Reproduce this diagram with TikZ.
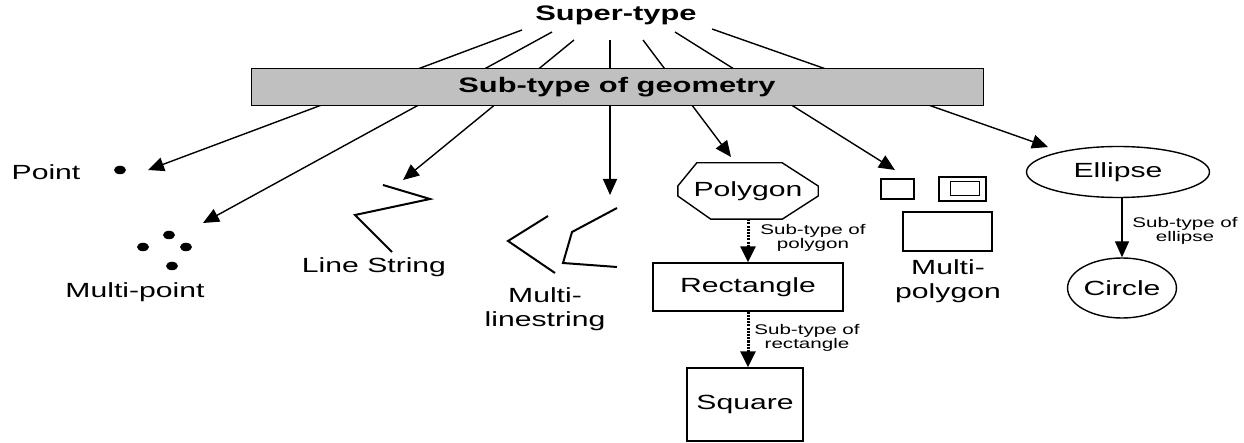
\documentclass[tikz,border=0pt]{standalone}
\usepackage{fontspec}
\setmainfont{Liberation Sans}[FakeStretch=1.47]
\usetikzlibrary{arrows.meta,shapes.geometric}
\definecolor{barg}{HTML}{C0C0C0}
\begin{document}
\begin{tikzpicture}[x=1pt,y=-1pt,
  lbl/.style={font=\fontsize{20.5}{24}\selectfont, align=center, inner sep=0pt},
  blbl/.style={font=\bfseries\fontsize{21}{24}\selectfont, align=center, inner sep=0pt},
  small/.style={font=\fontsize{14}{14.5}\selectfont, align=center, inner sep=0pt},
  arr/.style={line width=1.4pt, -{Triangle[length=16pt,width=14pt]}},
  dotarr/.style={line width=3pt, dash pattern=on 2pt off 1.2pt, -{Triangle[length=16pt,width=15pt]}},
  shp/.style={line width=2pt, line join=miter},
  frame/.style={draw, line width=1.4pt, inner sep=0pt},
  dot/.style={ellipse, fill, inner sep=0pt, minimum width=12pt, minimum height=8.5pt}]
\useasboundingbox (0,0) rectangle (1244,443);

% super-type
\node[blbl] (super) at (616,15) {Super-type};
\coordinate (s1) at (522,30);
\coordinate (s2) at (552,32);
\coordinate (s3) at (574,40);
\coordinate (s4) at (610,40);
\coordinate (s5) at (643,40);
\coordinate (s6) at (675,32);
\coordinate (s7) at (712,29);

\coordinate (t1) at (148,170);
\coordinate (t2) at (203,223);
\coordinate (t3) at (403,180);
\coordinate (t4) at (610,195);
\coordinate (t5) at (731,157);
\coordinate (t6) at (895,170);
\coordinate (t7) at (1048,147);

\foreach \i in {1,...,7} {\draw[arr] (s\i) -- (t\i);}

% bar
\node[draw, fill=barg, line width=1pt, minimum width=732pt, minimum height=37pt, inner sep=0pt, blbl] (bar) at (617,87.5) {Sub-type of geometry};

% Point
\node[lbl] (pointlbl) at (46,172) {Point};
\node[dot] (p0) at (120,170) {};

% Multi-point
\node[dot] (mp1) at (169,235) {};
\node[dot] (mp2) at (143,247) {};
\node[dot] (mp3) at (186,247) {};
\node[dot] (mp4) at (172,266) {};
\node[lbl] (mplbl) at (135,292.5) {Multi-point};

% Line string
\draw[shp] (383,185) -- (430,199) -- (355,215) -- (392,252);
\node[lbl] (lslbl) at (374,267.5) {Line String};

% Multi-linestring
\draw[shp] (548,216) -- (508,241) -- (555,273);
\draw[shp] (617,208) -- (572,232) -- (563,263) -- (617,267);
\node[lbl] (mlslbl) at (545,309) {Multi-\\linestring};

% Polygon
\node[lbl, minimum width=140pt, minimum height=56pt] (poly) at (748,191) {Polygon};
\draw[line width=1.4pt] ([xshift=19pt]poly.north west) -- ([xshift=-36pt]poly.north east)
  -- ([yshift=5pt]poly.east) -- ([yshift=-5pt]poly.east)
  -- ([xshift=-36pt]poly.south east) -- ([xshift=33pt]poly.south west)
  -- ([yshift=-5pt]poly.west) -- ([yshift=5pt]poly.west) -- cycle;

\node[lbl, frame, minimum width=190pt, minimum height=48pt] (rect) at (748,287) {Rectangle};
\node[lbl, frame, minimum width=116pt, minimum height=73pt] (sq) at (745,404.5) {Square};

\draw[dotarr] (poly.south) -- (rect.north);
\draw[dotarr] (rect.south) -- (rect.south |- sq.north);
\node[small] (l1) at (813,238) {Sub-type of\\polygon};
\node[small] (l2) at (807,338) {Sub-type of\\rectangle};

% Multi-polygon
\node[frame, minimum width=33pt, minimum height=20pt] (mpa) at (897.5,189) {};
\node[frame, minimum width=47pt, minimum height=24pt] (mpb) at (962.5,189) {};
\node[frame, line width=1pt, minimum width=29pt, minimum height=14pt] (mpc) at (964.5,189) {};
\node[frame, minimum width=89pt, minimum height=39pt] (mpd) at (947.5,231.5) {};
\node[lbl] (mpolylbl) at (948,281) {Multi-\\polygon};

% Ellipse / circle
\node[lbl, ellipse, draw, line width=1.4pt, minimum width=183pt, minimum height=51pt] (ell) at (1118,172) {Ellipse};
\node[lbl, ellipse, draw, line width=1.4pt, minimum width=92pt, minimum height=60pt] (circ) at (1122,288) {Circle};
\draw[arr] (circ.north |- ell.south) -- (circ.north);
\node[small] (l3) at (1185,231) {Sub-type of\\ellipse};
\end{tikzpicture}
\end{document}
